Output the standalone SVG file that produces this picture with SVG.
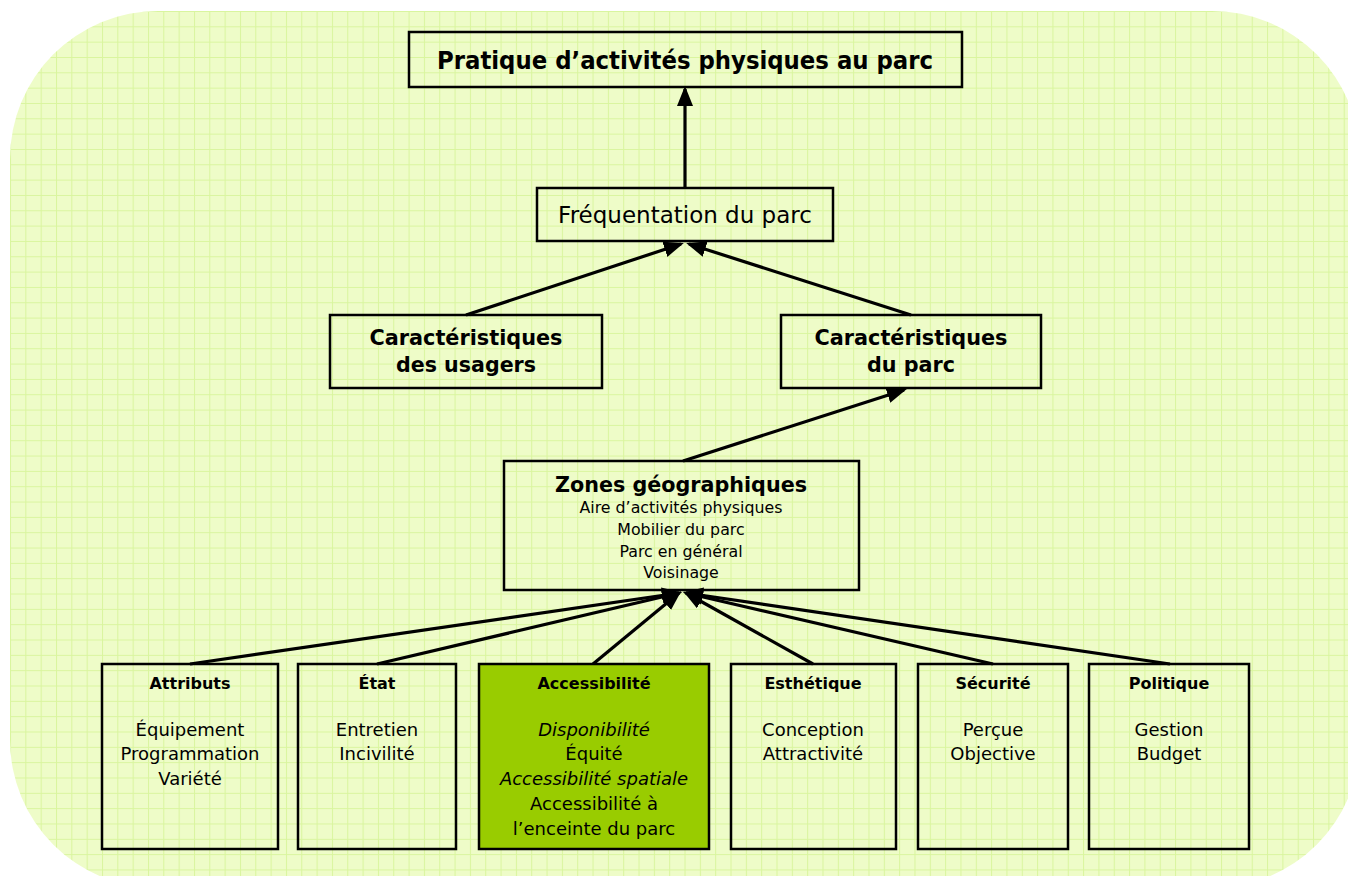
<svg xmlns="http://www.w3.org/2000/svg" width="1348" height="876" viewBox="0 0 1348 876">
<defs>
<pattern id="grid" patternUnits="userSpaceOnUse" x="10" y="11" width="15.33" height="15.33">
<rect width="15.33" height="15.33" fill="#eefcc8"/>
<path d="M0,0.5 H15.33 M0.5,0 V15.33" stroke="#d9f59e" stroke-width="1" fill="none"/>
</pattern>
<marker id="arr" markerUnits="userSpaceOnUse" markerWidth="20" markerHeight="16" viewBox="0 0 20 16" refX="17" refY="8" orient="auto">
<path d="M0,0 L20,8 L0,16 z" fill="#000"/>
</marker>
<style>
.box{fill:none;stroke:#000;stroke-width:2.5}
.b{font-family:"DejaVu Sans",sans-serif;font-weight:bold;fill:#000;text-anchor:middle}
.r{font-family:"DejaVu Sans",sans-serif;fill:#000;text-anchor:middle}
.i{font-style:italic}
.c{stroke:#000;stroke-width:3.2;fill:none;marker-end:url(#arr)}
</style>
</defs>
<rect x="10" y="11" width="1350" height="877" rx="148" ry="148" fill="url(#grid)"/>

<g id="connectors">
<line class="c" x1="685" y1="188" x2="685" y2="89"/>
<line class="c" x1="466" y1="315" x2="681" y2="244"/>
<line class="c" x1="911" y1="315" x2="689" y2="244"/>
<line class="c" x1="683" y1="461" x2="904" y2="390"/>
<line class="c" x1="190" y1="664" x2="679" y2="593"/>
<line class="c" x1="377" y1="664" x2="679" y2="593"/>
<line class="c" x1="593" y1="664" x2="679" y2="593"/>
<line class="c" x1="813" y1="664" x2="686" y2="593"/>
<line class="c" x1="993" y1="664" x2="686" y2="593"/>
<line class="c" x1="1170" y1="664" x2="686" y2="593"/>
</g>

<g id="node-pratique">
<rect class="box" x="409" y="32" width="553" height="55"/>
<text class="b" x="685" y="69" font-size="24" textLength="496" lengthAdjust="spacingAndGlyphs">Pratique d’activités physiques au parc</text>
</g>

<g id="node-frequentation">
<rect class="box" x="537" y="188" width="296" height="53"/>
<text class="r" x="685" y="223" font-size="23">Fréquentation du parc</text>
</g>

<g id="node-usagers">
<rect class="box" x="330" y="315" width="272" height="73"/>
<text class="b" x="466" y="345" font-size="21.5" textLength="193" lengthAdjust="spacingAndGlyphs">Caractéristiques</text>
<text class="b" x="466" y="372" font-size="21.5" textLength="140" lengthAdjust="spacingAndGlyphs">des usagers</text>
</g>

<g id="node-parc">
<rect class="box" x="781" y="315" width="260" height="73"/>
<text class="b" x="911" y="345" font-size="21.5" textLength="193" lengthAdjust="spacingAndGlyphs">Caractéristiques</text>
<text class="b" x="911" y="372" font-size="21.5" textLength="88" lengthAdjust="spacingAndGlyphs">du parc</text>
</g>

<g id="node-zones">
<rect class="box" x="504" y="461" width="355" height="129"/>
<text class="b" x="681" y="492" font-size="22" textLength="252" lengthAdjust="spacingAndGlyphs">Zones géographiques</text>
<text class="r" x="681" y="513" font-size="15.8">Aire d’activités physiques</text>
<text class="r" x="681" y="535" font-size="15.8">Mobilier du parc</text>
<text class="r" x="681" y="557" font-size="15.8">Parc en général</text>
<text class="r" x="681" y="578" font-size="15.8">Voisinage</text>
</g>

<g id="node-attributs">
<rect class="box" x="102" y="664" width="176" height="185"/>
<text class="b" x="190" y="689" font-size="16">Attributs</text>
<text class="r" x="190" y="736" font-size="18">Équipement</text>
<text class="r" x="190" y="760" font-size="18">Programmation</text>
<text class="r" x="190" y="785" font-size="18">Variété</text>
</g>

<g id="node-etat">
<rect class="box" x="298" y="664" width="158" height="185"/>
<text class="b" x="377" y="689" font-size="16">État</text>
<text class="r" x="377" y="736" font-size="18">Entretien</text>
<text class="r" x="377" y="760" font-size="18">Incivilité</text>
</g>

<g id="node-accessibilite">
<rect class="box" x="479" y="664" width="230" height="185" style="fill:#99cc00"/>
<text class="b" x="594" y="689" font-size="16">Accessibilité</text>
<text class="r i" x="594" y="736" font-size="18">Disponibilité</text>
<text class="r" x="594" y="760" font-size="18">Équité</text>
<text class="r i" x="594" y="785" font-size="18">Accessibilité spatiale</text>
<text class="r" x="594" y="810" font-size="18">Accessibilité à</text>
<text class="r" x="594" y="835" font-size="18">l’enceinte du parc</text>
</g>

<g id="node-esthetique">
<rect class="box" x="731" y="664" width="165" height="185"/>
<text class="b" x="813" y="689" font-size="16">Esthétique</text>
<text class="r" x="813" y="736" font-size="18">Conception</text>
<text class="r" x="813" y="760" font-size="18">Attractivité</text>
</g>

<g id="node-securite">
<rect class="box" x="918" y="664" width="150" height="185"/>
<text class="b" x="993" y="689" font-size="16">Sécurité</text>
<text class="r" x="993" y="736" font-size="18">Perçue</text>
<text class="r" x="993" y="760" font-size="18">Objective</text>
</g>

<g id="node-politique">
<rect class="box" x="1089" y="664" width="160" height="185"/>
<text class="b" x="1169" y="689" font-size="16">Politique</text>
<text class="r" x="1169" y="736" font-size="18">Gestion</text>
<text class="r" x="1169" y="760" font-size="18">Budget</text>
</g>
</svg>
